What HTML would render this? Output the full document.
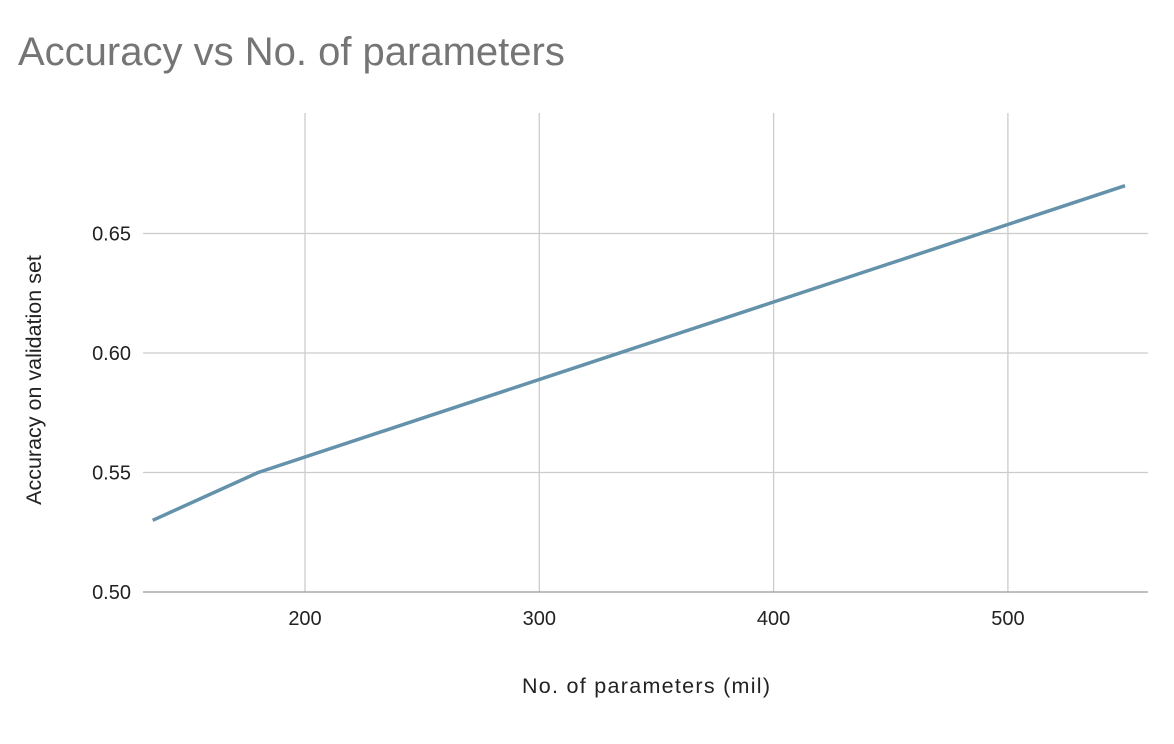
<!DOCTYPE html>
<html><head><meta charset="utf-8"><style>
html,body{margin:0;padding:0;background:#fff;}
svg{display:block;font-family:"Liberation Sans",Arial,sans-serif;}
</style></head><body>
<svg id="chart" width="1174" height="744">
<text x="18" y="65" font-size="40" fill="#757575">Accuracy vs No. of parameters</text>
<g id="grid"></g>
<g id="ticks"></g>
<path id="line" fill="none" stroke="#6592ab" stroke-width="3.5" stroke-linejoin="round"></path>
<text x="646" y="693" font-size="21.5" text-anchor="middle" fill="#222" textLength="248">No. of parameters (mil)</text>
<text transform="translate(41,380) rotate(-90)" font-size="21.5" text-anchor="middle" fill="#222">Accuracy on validation set</text>
</svg>
<script>
const xValues = [135, 180, 550];
const yValues = [0.53, 0.55, 0.67];
const xTicks = [200, 300, 400, 500];
const yTicks = [0.50, 0.55, 0.60, 0.65];
const yTickLabels = ["0.50", "0.55", "0.60", "0.65"];

const L=143,R=1148,T=113,B=592;
function sx(v){return 305+(v-200)*2.343;}
function sy(v){return 592-(v-0.5)*2390;}
const ns="http://www.w3.org/2000/svg";
const grid=document.getElementById('grid'),ticks=document.getElementById('ticks');
function mk(tag,attrs,parent){const e=document.createElementNS(ns,tag);for(const k in attrs)e.setAttribute(k,attrs[k]);parent.appendChild(e);return e;}
yTicks.forEach((v,i)=>{
  const y=sy(v);
  const g=mk('line',{x1:L,x2:R,y1:y,y2:y,stroke:i===0?'#999':'#cccccc','stroke-width':1.3},grid);
  
  
  const t=mk('text',{x:131,y:y+7,'font-size':20,'text-anchor':'end',fill:'#222'},ticks);
  t.textContent=yTickLabels[i];
  
  
});
xTicks.forEach(v=>{
  const x=sx(v);
  const g=mk('line',{x1:x,x2:x,y1:T,y2:B,stroke:'#cccccc','stroke-width':1.3},grid);
  
  
  const t=mk('text',{x:x,y:625,'font-size':20,'text-anchor':'middle',fill:'#222'},ticks);
  t.textContent=v;
  
  
});
grid.appendChild(grid.firstChild);
document.getElementById('line').setAttribute('d',xValues.map((v,i)=>(i?'L':'M')+sx(v)+','+sy(yValues[i])).join(' '));
</script>
</body></html>
